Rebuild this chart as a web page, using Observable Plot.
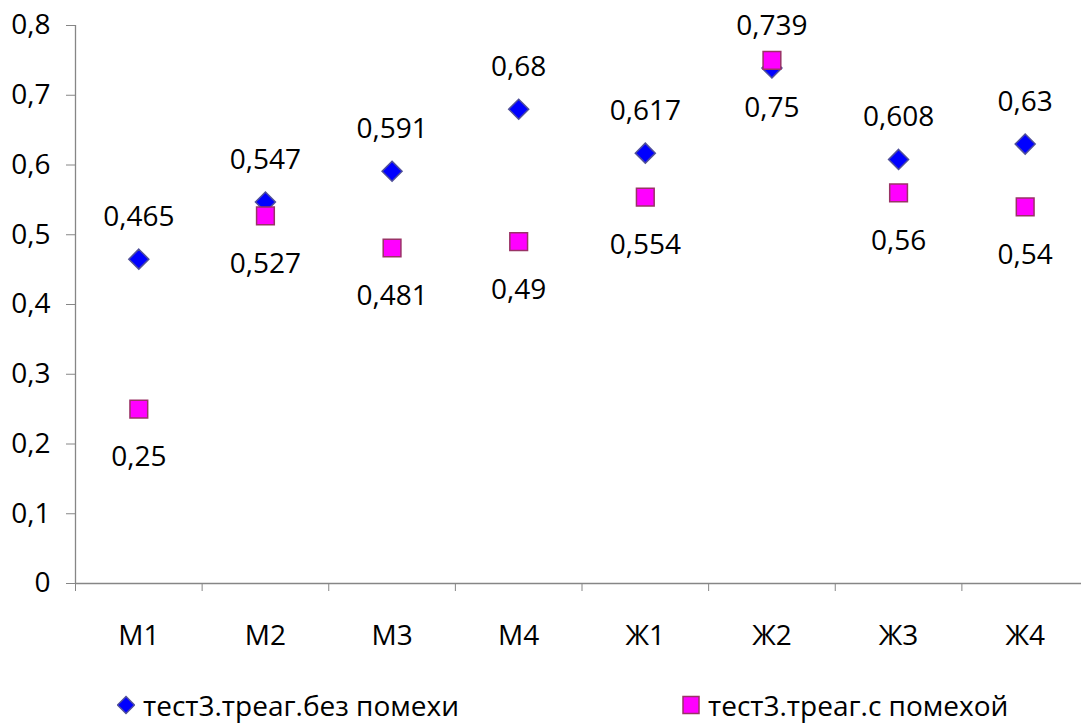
<!DOCTYPE html>
<html>
<head>
<meta charset="utf-8">
<script src="https://cdn.jsdelivr.net/npm/d3@7"></script>
<script src="https://cdn.jsdelivr.net/npm/@observablehq/plot@0.6"></script>
<style>
  html, body { margin: 0; padding: 0; background: #fff; }
  body { width: 1081px; height: 724px; overflow: hidden; font-family: "Open Sans", sans-serif; }
  #chart svg { display: block; }
  #legend { position: relative; height: 44px; font-size: 28px; line-height: 30px; color: #000; }
  .item { position: absolute; top: 10px; height: 30px; display: flex; align-items: center; white-space: nowrap; }
  .item svg { margin-right: 8px; }
</style>
</head>
<body>
<div id="chart"></div>
<div id="legend"></div>
<script>
const categories = ["М1", "М2", "М3", "М4", "Ж1", "Ж2", "Ж3", "Ж4"];
const seriesNames = ["тест3.треаг.без помехи", "тест3.треаг.с помехой"];
const withoutNoise = [0.465, 0.547, 0.591, 0.68, 0.617, 0.739, 0.608, 0.63];
const withNoise = [0.25, 0.527, 0.481, 0.49, 0.554, 0.75, 0.56, 0.54];
const yTicks = [0, 0.1, 0.2, 0.3, 0.4, 0.5, 0.6, 0.7, 0.8];

const fmt = v => String(v).replace(".", ",");
const rowsA = categories.map((c, i) => ({i, c, v: withoutNoise[i]}));
const rowsB = categories.map((c, i) => ({i, c, v: withNoise[i]}));
const bandEdges = d3.range(categories.length + 1);

const axisColor = "#868686";
const FS = 28;

const chart = Plot.plot({
  width: 1081,
  height: 680,
  marginLeft: 75,
  marginRight: 0,
  marginTop: 25,
  marginBottom: 97,
  style: {fontFamily: "Open Sans, sans-serif", fontSize: FS + "px", color: "#000", background: "#fff", overflow: "visible"},
  x: {domain: [0, categories.length], range: [75, 1088]},
  y: {domain: [0, 0.8]},
  marks: [
    Plot.axisY({ticks: yTicks, tickFormat: fmt, tickSize: 9, tickPadding: 16, stroke: axisColor, fill: "#000", label: null, fontSize: FS}),
    Plot.axisX({ticks: bandEdges, tickFormat: () => "", tickSize: 8, stroke: axisColor, label: null}),
    Plot.ruleX([0], {y1: 0, y2: 0.8, stroke: axisColor, strokeWidth: 1.3}),
    Plot.ruleY([0], {stroke: axisColor, strokeWidth: 1.3}),
    Plot.text(categories, {x: (d, i) => i + 0.5, y: 0, text: d => d, dy: 53, fontSize: FS, fill: "#000"}),
    Plot.dot(rowsA, {x: d => d.i + 0.5, y: "v", symbol: "diamond2", r: 9, fill: "#0000ff", stroke: "#50509a", strokeWidth: 1.5}),
    Plot.dot(rowsB, {x: d => d.i + 0.5, y: "v", symbol: "square", r: 10, fill: "#ff00ff", stroke: "#993366", strokeWidth: 1.5}),
    Plot.text(rowsA, {x: d => d.i + 0.5, y: "v", text: d => fmt(d.v), dy: -42, fontSize: FS, fill: "#000"}),
    Plot.text(rowsB, {x: d => d.i + 0.5, y: "v", text: d => fmt(d.v), dy: 48, fontSize: FS, fill: "#000"})
  ]
});
document.getElementById("chart").appendChild(chart);

// legend
const legend = document.getElementById("legend");
const items = [
  {name: seriesNames[0], left: 117, icon: '<svg width="18" height="20" viewBox="-9 -10 18 20"><path d="M0,-8.5L8.5,0L0,8.5L-8.5,0Z" fill="#0000ff" stroke="#50509a" stroke-width="1.5"/></svg>'},
  {name: seriesNames[1], left: 682, icon: '<svg width="18" height="20" viewBox="-9 -10 18 20"><rect x="-8" y="-8.5" width="16" height="17" fill="#ff00ff" stroke="#993366" stroke-width="1.5"/></svg>'}
];
for (const it of items) {
  const div = document.createElement("div");
  div.className = "item";
  div.style.left = it.left + "px";
  div.innerHTML = it.icon + "<span>" + it.name + "</span>";
  legend.appendChild(div);
}
</script>
</body>
</html>
